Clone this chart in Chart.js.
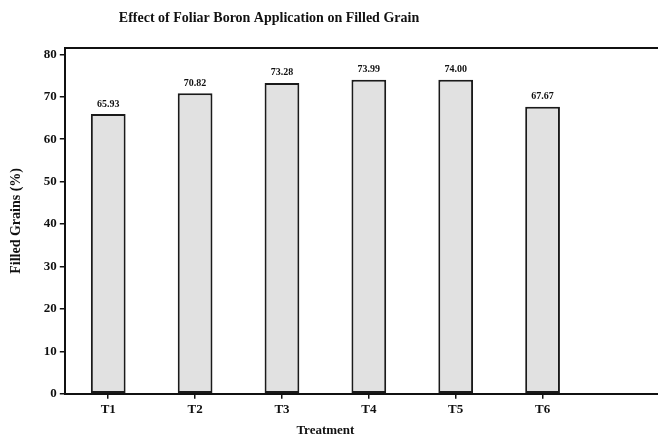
<!DOCTYPE html>
<html>
<head>
<meta charset="utf-8">
<script src="https://cdn.jsdelivr.net/npm/chart.js@4.4.0/dist/chart.umd.min.js"></script>
<style>
    html, body { margin: 0; padding: 0; background: #fff; overflow: hidden; }
    #wrap { width: 658px; height: 435px; position: relative; }
</style>
</head>
<body>
<div id="wrap"><canvas id="grain-chart"></canvas></div>
<script>
// Filled grain (%) per treatment
const treatments = ['T1', 'T2', 'T3', 'T4', 'T5', 'T6'];
const filledGrain = [65.93, 70.82, 73.28, 73.99, 74.00, 67.67];
const yTicks = [0, 10, 20, 30, 40, 50, 60, 70, 80];

const chartTitle = 'Effect of Foliar Boron Application on Filled Grain';
const serif = '"Liberation Serif", "Times New Roman", serif';

// title, value labels and the frame that runs past the last bar
const extras = {
    id: 'extras',
    afterDraw(chart) {
        const ctx = chart.ctx;
        const area = chart.chartArea;
        const top = Math.round(area.top);
        const bottom = Math.round(chart.scales.x.top);
        ctx.save();

        ctx.strokeStyle = '#111';
        ctx.lineWidth = 2;
        ctx.beginPath();
        ctx.moveTo(area.left, top);
        ctx.lineTo(chart.width, top);
        ctx.moveTo(area.left, bottom);
        ctx.lineTo(chart.width, bottom);
        ctx.stroke();

        ctx.fillStyle = '#111';
        ctx.font = 'bold 14px ' + serif;
        ctx.textAlign = 'center';
        ctx.textBaseline = 'middle';
        ctx.fillText(chartTitle, 269, 18);

        ctx.font = 'bold 10px ' + serif;
        ctx.textBaseline = 'bottom';
        chart.getDatasetMeta(0).data.forEach((bar, i) => {
            ctx.fillText(filledGrain[i].toFixed(2), bar.x, bar.y - 5);
        });
        ctx.restore();
    }
};

new Chart(document.getElementById('grain-chart'), {
    type: 'bar',
    data: {
        labels: treatments,
        datasets: [{
            data: filledGrain,
            backgroundColor: '#e1e1e1',
            borderColor: '#1a1a1a',
            borderWidth: 2,
            borderSkipped: false,
            barPercentage: 0.8,
            categoryPercentage: 0.5
        }]
    },
    options: {
        responsive: true,
        maintainAspectRatio: false,
        animation: false,
        layout: { padding: { top: 48, right: 72, left: 8, bottom: -3 } },
        plugins: {
            legend: { display: false },
            tooltip: { enabled: false },
            title: { display: false }
        },
        scales: {
            x: {
                grid: { display: true, drawOnChartArea: false, offset: false, tickLength: 5, color: '#111', lineWidth: 1.5 },
                border: { display: true, color: '#111', width: 2 },
                ticks: { color: '#111', font: { family: serif, size: 13, weight: 'bold' }, padding: 3 },
                title: { display: true, text: 'Treatment', color: '#111', font: { family: serif, size: 13, weight: 'bold' }, padding: { top: 2, bottom: 0 } }
            },
            y: {
                min: 0,
                max: 81.5,
                afterBuildTicks(axis) {
                    axis.ticks = yTicks.map(v => ({ value: v }));
                },
                grid: { display: true, drawOnChartArea: false, tickLength: 5, color: '#111', lineWidth: 1.5 },
                border: { display: true, color: '#111', width: 2 },
                ticks: { color: '#111', font: { family: serif, size: 13, weight: 'bold' }, padding: 3 },
                title: { display: true, text: 'Filled Grains (%)', color: '#111', font: { family: serif, size: 14, weight: 'bold' }, padding: { top: 0, bottom: 16 } }
            }
        }
    },
    plugins: [extras]
});
</script>
</body>
</html>
